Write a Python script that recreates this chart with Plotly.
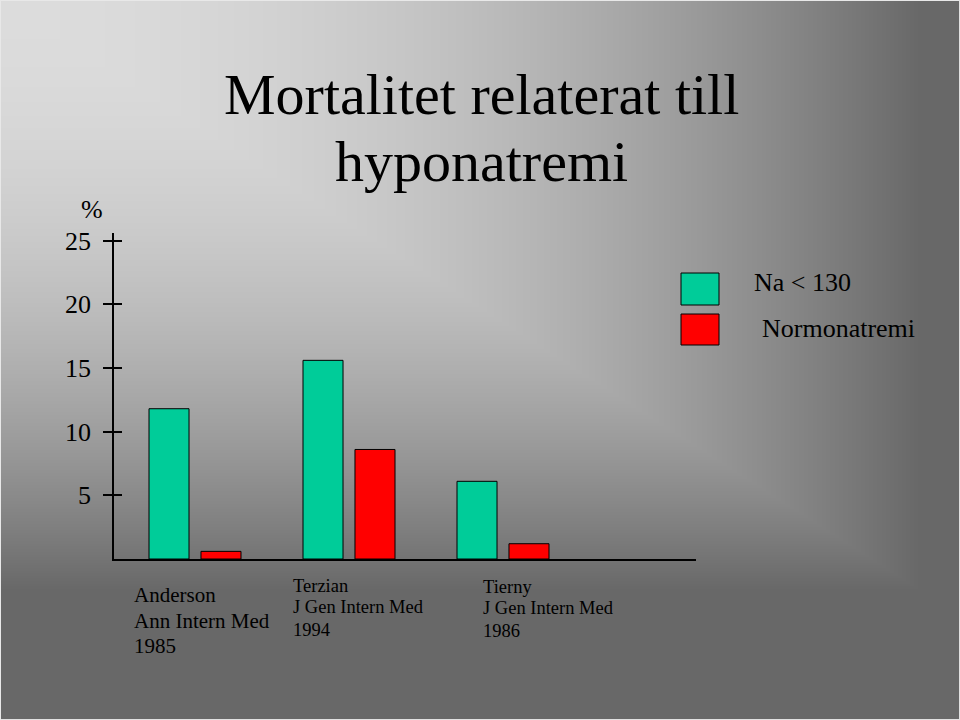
import base64
import struct
import zlib

import numpy as np
import plotly.graph_objects as go

# ---------------- data ----------------
studies = ["Anderson", "Terzian", "Tierny"]
journals = ["Ann Intern Med", "J Gen Intern Med", "J Gen Intern Med"]
years = ["1985", "1994", "1986"]
series_names = ["Na < 130", "Normonatremi"]
hypo_values = [11.8, 15.6, 6.1]
normo_values = [0.6, 8.6, 1.2]
y_ticks = [5, 10, 15, 20, 25]
y_unit = "%"
title_lines = ["Mortalitet relaterat till", "hyponatremi"]

GREEN = "#00CC99"
RED = "#FF0000"
FONT = "Liberation Serif"

# ---------------- geometry ----------------
W, H = 960, 720
L, R, T, B = 114, 264, 233, 161
PW, PH = W - L - R, H - T - B


def px(x):
    return (x - L) / PW


def py(y):
    return 1 - (y - T) / PH


# ---------------- background gradient image ----------------
def gradient_png():
    yy, xx = np.mgrid[0:H, 0:W].astype(float) + 0.5
    t = np.clip(np.maximum(xx / 920.0, yy / 590.0), 0, 1)
    v = 220 - 116 * t ** 2
    v = np.round(v).astype(np.int16)
    v[0, :] = 232
    v[-1, :] = 225
    v[:, 0] = 232
    v[:, -1] = 225
    rows = []
    for row in v:
        d = (np.diff(row, prepend=0) % 256).astype(np.uint8)
        rows.append(b"\x01" + d.tobytes())
    raw = b"".join(rows)

    def chunk(tp, data):
        return (struct.pack(">I", len(data)) + tp + data
                + struct.pack(">I", zlib.crc32(tp + data) & 0xFFFFFFFF))

    png = b"\x89PNG\r\n\x1a\n"
    png += chunk(b"IHDR", struct.pack(">IIBBBBB", W, H, 8, 0, 0, 0, 0))
    png += chunk(b"IDAT", zlib.compress(raw, 9))
    png += chunk(b"IEND", b"")
    return "data:image/png;base64," + base64.b64encode(png).decode()


fig = go.Figure()
fig.add_trace(go.Bar(x=studies, y=hypo_values, name=series_names[0],
                     marker=dict(color=GREEN, line=dict(color="black", width=1)),
                     showlegend=False))
fig.add_trace(go.Bar(x=studies, y=normo_values, name=series_names[1],
                     marker=dict(color=RED, line=dict(color="black", width=1)),
                     showlegend=False))
# invisible trace so the overlaid inner-tick axis is drawn
fig.add_trace(go.Scatter(x=studies, y=[None] * len(studies), yaxis="y2",
                         showlegend=False, hoverinfo="skip", mode="markers"))

CAT0 = -0.526
CATW = 154.0

annotations = []
# title
for i, line in enumerate(title_lines):
    annotations.append(dict(text=line, xref="paper", yref="paper",
                            x=px(481), y=py([94, 161][i]), xanchor="center",
                            yanchor="middle", showarrow=False,
                            font=dict(family=FONT, size=58, color="black")))
# y unit
annotations.append(dict(text=y_unit, xref="paper", yref="paper", x=px(92), y=py(209),
                        xanchor="center", yanchor="middle", showarrow=False,
                        font=dict(family=FONT, size=26, color="black")))
# category labels (left edges in the reference: 132, 291, 481)
label_cfg = [
    dict(left=132, ys=[36, 62, 87], size=21),
    dict(left=291, ys=[27, 48, 71], size=18.5),
    dict(left=481, ys=[28, 49, 72], size=18.5),
]
for i, (s, j, yr) in enumerate(zip(studies, journals, years)):
    cfg = label_cfg[i]
    center = L + (i - CAT0) * CATW
    for k, txt in enumerate([s, j, yr]):
        annotations.append(dict(text=txt, xref="x", yref="y", x=i, y=0,
                                xanchor="left", yanchor="middle",
                                xshift=cfg["left"] - center,
                                yshift=-cfg["ys"][k], showarrow=False,
                                font=dict(family=FONT, size=cfg["size"], color="black")))
# custom legend
legend_rows = [(GREEN, series_names[0], 273, 305, 752, 282),
               (RED, series_names[1], 314, 345, 760, 328)]
shapes = []
for color, name, y0, y1, tx, ty in legend_rows:
    shapes.append(dict(type="rect", xref="paper", yref="paper",
                       x0=px(681), x1=px(719), y0=py(y1), y1=py(y0),
                       fillcolor=color, line=dict(color="black", width=1)))
    annotations.append(dict(text=name.replace("<", "&lt;"), xref="paper", yref="paper",
                            x=px(tx), y=py(ty), xanchor="left", yanchor="middle",
                            showarrow=False,
                            font=dict(family=FONT, size=26, color="black")))

fig.update_layout(
    width=W, height=H,
    margin=dict(l=L, r=R, t=T, b=B, pad=0),
    paper_bgcolor="#a0a0a0",
    plot_bgcolor="rgba(0,0,0,0)",
    barmode="group",
    bargap=0.325,
    bargroupgap=0.23,
    font=dict(family=FONT, color="black"),
    images=[dict(source=gradient_png(), xref="paper", yref="paper",
                 x=-L / PW, y=1 + T / PH, sizex=W / PW, sizey=H / PH,
                 xanchor="left", yanchor="top", sizing="stretch", layer="below")],
    xaxis=dict(type="category", range=[CAT0, CAT0 + PW / CATW], showline=True,
               linecolor="black", linewidth=1.5, showticklabels=False,
               ticks="", showgrid=False, zeroline=False),
    yaxis=dict(range=[0, 25.6], tickvals=y_ticks, ticks="outside", ticklen=9,
               tickwidth=1.5, tickcolor="black", showline=True, linecolor="black",
               linewidth=1.5, showgrid=False, zeroline=False, ticklabelstandoff=7,
               tickfont=dict(family=FONT, size=26, color="black")),
    yaxis2=dict(overlaying="y", anchor="x", side="left", range=[0, 25.6],
                tickvals=y_ticks, ticks="inside", ticklen=8, tickwidth=1.5,
                tickcolor="black", showticklabels=False, showline=False,
                showgrid=False, zeroline=False),
    annotations=annotations,
    shapes=shapes,
    showlegend=False,
)

fig.write_html("out.html",
               config={"displayModeBar": False},
               post_script="document.body.style.margin='0';"
                           "document.body.style.overflow='hidden';")
